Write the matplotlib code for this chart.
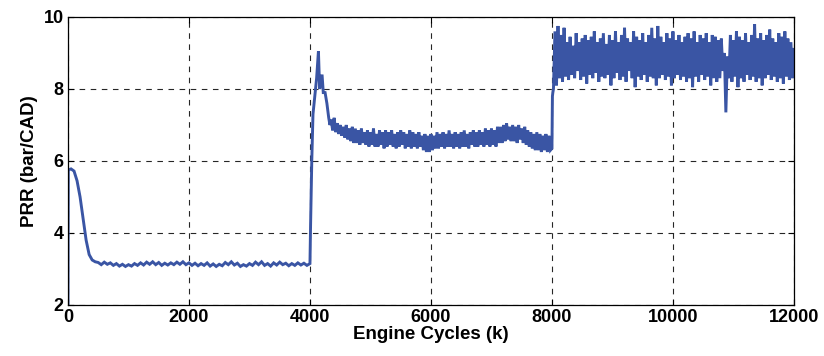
import matplotlib
matplotlib.use("Agg")
import matplotlib.pyplot as plt
import numpy as np

# PRR trace, in pieces
# start-up and fall to the first plateau
start_x = [0, 5, 50, 100, 150, 200, 250, 300, 350, 400, 450]
start_y = [2.0, 5.75, 5.78, 5.72, 5.45, 5.0, 4.4, 3.8, 3.4, 3.25, 3.2]

# first plateau, every 50 cycles from 500
low_y = [
    3.18, 3.12, 3.19, 3.13, 3.17, 3.10, 3.15, 3.08, 3.13, 3.07,
    3.12, 3.08, 3.15, 3.10, 3.17, 3.11, 3.19, 3.13, 3.20, 3.12,
    3.18, 3.10, 3.16, 3.11, 3.17, 3.12, 3.19, 3.13, 3.20, 3.12,
    3.17, 3.10, 3.16, 3.09, 3.15, 3.10, 3.17, 3.08, 3.14, 3.07,
    3.13, 3.09, 3.18, 3.12, 3.20, 3.11, 3.16, 3.07, 3.12, 3.08,
    3.15, 3.10, 3.19, 3.12, 3.20, 3.10, 3.15, 3.08, 3.17, 3.11,
    3.19, 3.12, 3.16, 3.09, 3.15, 3.10, 3.17, 3.11, 3.16, 3.10,
]

# step at 4000 and overshoot
jump_x = [4000, 4010, 4030, 4050, 4080, 4110, 4140, 4160, 4180, 4200,
          4220, 4250, 4280, 4310, 4330]
jump_y = [3.15, 4.2, 6.0, 7.3, 7.8, 8.3, 9.05, 8.0, 8.2, 8.4,
          7.9, 7.9, 7.6, 7.2, 7.0]

# second plateau, every 25 cycles from 4350
mid_y = [
    7.15, 6.85, 7.20, 6.80, 7.05, 6.75, 7.00, 6.70,
    6.95, 6.65, 7.00, 6.60, 6.90, 6.55, 6.95, 6.50,
    6.90, 6.50, 6.85, 6.45, 6.90, 6.50, 6.80, 6.45,
    6.85, 6.40, 6.80, 6.45, 6.90, 6.40, 6.75, 6.40,
    6.85, 6.45, 6.80, 6.35, 6.85, 6.40, 6.80, 6.45,
    6.85, 6.40, 6.75, 6.35, 6.80, 6.40, 6.85, 6.45,
    6.80, 6.35, 6.75, 6.40, 6.85, 6.35, 6.80, 6.40,
    6.75, 6.35, 6.80, 6.40, 6.70, 6.30, 6.75, 6.25,
    6.70, 6.25, 6.75, 6.30, 6.70, 6.35, 6.80, 6.35,
    6.75, 6.40, 6.80, 6.35, 6.75, 6.40, 6.85, 6.40,
    6.75, 6.35, 6.80, 6.40, 6.75, 6.35, 6.80, 6.40,
    6.85, 6.40, 6.75, 6.35, 6.80, 6.45, 6.85, 6.40,
    6.80, 6.40, 6.85, 6.45, 6.80, 6.40, 6.90, 6.45,
    6.85, 6.40, 6.90, 6.45, 6.85, 6.40, 6.95, 6.50,
    6.95, 6.50, 7.00, 6.55, 7.05, 6.60, 6.95, 6.55,
    7.00, 6.55, 6.95, 6.50, 7.00, 6.60, 6.90, 6.50,
    6.95, 6.45, 6.85, 6.40, 6.80, 6.35, 6.75, 6.30,
    6.80, 6.30, 6.75, 6.25, 6.70, 6.30, 6.75, 6.25,
    6.70, 6.30,
]

# step at 8000
step_x = [8000, 8008, 8015]
step_y = [6.35, 7.8, 7.9]

# third plateau, every 25 cycles from 8025
high_y = [
    8.00, 9.60, 8.10, 9.75, 8.30, 9.50, 8.20, 9.70, 8.35, 9.30,
    8.25, 9.45, 8.40, 9.20, 8.30, 9.55, 8.50, 9.30, 8.25, 9.40,
    8.35, 9.50, 8.15, 9.35, 8.40, 9.45, 8.30, 9.60, 8.45, 9.30,
    8.20, 9.40, 8.35, 9.55, 8.30, 9.25, 8.40, 9.50, 8.10, 9.35,
    8.30, 9.60, 8.45, 9.30, 8.25, 9.50, 8.35, 9.70, 8.20, 9.40,
    8.50, 9.30, 8.30, 9.60, 8.05, 9.45, 8.35, 9.35, 8.25, 9.55,
    8.40, 9.30, 8.20, 9.50, 8.35, 9.70, 8.30, 9.40, 8.10, 9.75,
    8.30, 9.45, 8.40, 9.30, 8.25, 9.55, 8.35, 9.40, 8.10, 9.60,
    8.30, 9.35, 8.40, 9.50, 8.25, 9.30, 8.35, 9.45, 8.20, 9.55,
    8.30, 9.40, 8.05, 9.60, 8.35, 9.30, 8.20, 9.50, 8.40, 9.40,
    8.25, 9.55, 8.35, 9.30, 8.10, 9.50, 8.30, 9.45, 8.20, 9.35,
    8.30, 9.40, 8.50, 9.00, 7.35, 8.90, 8.30, 9.50, 8.20, 9.35,
    8.35, 9.60, 8.05, 9.45, 8.30, 9.35, 8.20, 9.55, 8.40, 9.30,
    8.25, 9.50, 8.35, 9.80, 8.20, 9.40, 8.30, 9.55, 8.10, 9.35,
    8.30, 9.50, 8.40, 9.65, 8.25, 9.40, 8.35, 9.30, 8.20, 9.55,
    8.30, 9.45, 8.15, 9.60, 8.35, 9.40, 8.25, 9.30, 8.30, 9.10,
]

x = np.concatenate([
    start_x,
    500 + 50 * np.arange(len(low_y)),
    jump_x,
    4350 + 25 * np.arange(len(mid_y)),
    step_x,
    8025 + 25 * np.arange(len(high_y)),
])
y = np.concatenate([start_y, low_y, jump_y, mid_y, step_y, high_y])

plt.rcParams['font.family'] = ['Liberation Sans', 'DejaVu Sans']
plt.rcParams['font.weight'] = 'bold'

fig = plt.figure(figsize=(8.24, 3.56), dpi=100)
ax = fig.add_axes([0.0825, 0.1433, 0.881, 0.809])

ax.plot(x, y, color='#3a55a4', lw=2.1, solid_joinstyle='miter')

ax.set_xlim(0, 12000)
ax.set_ylim(2, 10)
ax.set_xticks(np.arange(0, 12001, 2000))
ax.set_yticks([2, 4, 6, 8, 10])
ax.grid(True, color='0.15', ls=(0, (5, 5)), lw=0.8)
ax.tick_params(direction='in', length=4, top=True, right=True, labelsize=13, pad=3)
for lab in ax.get_xticklabels() + ax.get_yticklabels():
    lab.set_fontweight('bold')
for s in ax.spines.values():
    s.set_linewidth(0.9)

ax.set_xlabel('Engine Cycles (k)', fontsize=13.5, fontweight='bold', labelpad=0)
ax.set_ylabel('PRR (bar/CAD)', fontsize=13.5, fontweight='bold', labelpad=4)

fig.savefig('out.png', dpi=100)
